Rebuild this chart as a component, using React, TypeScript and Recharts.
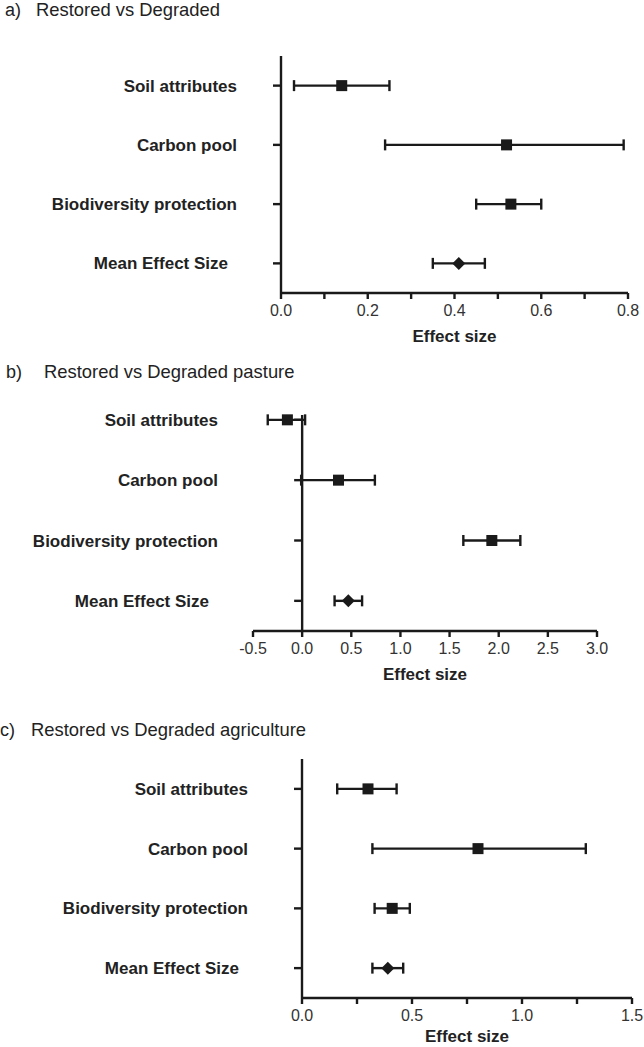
import { ScatterChart, Scatter, XAxis, YAxis, ErrorBar, ReferenceLine, Label } from 'recharts';

const categories = ['Soil attributes', 'Carbon pool', 'Biodiversity protection', 'Mean Effect Size'];

// a) Restored vs Degraded
const meanA = [0.14, 0.52, 0.53, 0.41];
const lowA = [0.03, 0.24, 0.45, 0.35];
const highA = [0.25, 0.79, 0.60, 0.47];
const ticksA = [0, 0.1, 0.2, 0.3, 0.4, 0.5, 0.6, 0.7, 0.8];

// b) Restored vs Degraded pasture
const meanB = [-0.15, 0.37, 1.93, 0.47];
const lowB = [-0.35, -0.01, 1.64, 0.33];
const highB = [0.03, 0.74, 2.22, 0.61];
const ticksB = [-0.5, 0, 0.5, 1, 1.5, 2, 2.5, 3];

// c) Restored vs Degraded agriculture
const meanC = [0.30, 0.80, 0.41, 0.39];
const lowC = [0.16, 0.32, 0.33, 0.32];
const highC = [0.43, 1.29, 0.49, 0.46];
const ticksC = [0, 0.25, 0.5, 0.75, 1, 1.25, 1.5];

const INK = '#1a1a1a';
const LW = 2.4;
const FONT = '"Liberation Sans", Arial, sans-serif';

const Square = (p: any) => <rect x={p.cx - 5.5} y={p.cy - 5.5} width={11} height={11} fill={INK} />;
const Diamond = (p: any) => (
  <polygon
    points={`${p.cx},${p.cy - 6.5} ${p.cx + 6.5},${p.cy} ${p.cx},${p.cy + 6.5} ${p.cx - 6.5},${p.cy}`}
    fill={INK}
  />
);

const CatTick = ({ x, y, payload }: any) => {
  const name = categories[categories.length - payload.value];
  // the mean row sits a little further left in the original
  const shift = payload.value === 1 ? 9 : 0;
  return (
    <text x={x - shift} y={y} dy="0.355em" textAnchor="end"
      fontSize={17} fontWeight="bold" fill="#222" fontFamily={FONT}>
      {name}
    </text>
  );
};

interface PanelProps {
  letter: string; title: string; titleX: number; letterX: number; titleY: number;
  means: number[]; lows: number[]; highs: number[];
  ticks: number[]; showTick: (v: number) => boolean;
  top: number; height: number; marginTop: number; axisHeight: number; labelOffset: number;
  axisLeft: number; right: number; labelGap: number; yTop: number;
  zeroAxis?: boolean; unitPx?: number;
}

function Panel(p: PanelProps) {
  const rows = p.means.map((m, i) => ({
    x: m, y: categories.length - i, err: [m - p.lows[i], p.highs[i] - m],
  }));
  const studies = rows.slice(0, 3);
  const mean = rows.slice(3);
  const tickLen = p.unitPx ? 8 / p.unitPx : 0;

  return (
    <>
      <div style={{ position: 'absolute', left: p.letterX, top: p.titleY, fontSize: 18, lineHeight: '18px', color: '#222' }}>
        {p.letter}
      </div>
      <div style={{ position: 'absolute', left: p.titleX, top: p.titleY, fontSize: 18.4, lineHeight: '18px', color: '#222' }}>
        {p.title}
      </div>
      <div style={{ position: 'absolute', left: 0, top: p.top }}>
        <ScatterChart width={644} height={p.height}
          margin={{ top: p.marginTop, right: p.right, bottom: 0, left: 0 }}>
          <XAxis type="number" dataKey="x" domain={[p.ticks[0], p.ticks[p.ticks.length - 1]]}
            ticks={p.ticks} interval={0} height={p.axisHeight}
            tickFormatter={(v: number) => (p.showTick(v) ? v.toFixed(1) : '')}
            tick={{ fontSize: 16, fill: '#333', fontFamily: FONT }}
            tickSize={6} tickMargin={6}
            axisLine={{ stroke: INK, strokeWidth: LW }}
            tickLine={{ stroke: INK, strokeWidth: LW }}>
            <Label value="Effect size" position="insideBottom" offset={p.labelOffset}
              style={{ fontSize: 17, fontWeight: 'bold', fill: '#222', fontFamily: FONT }} />
          </XAxis>
          <YAxis type="number" dataKey="y" domain={[0.5, p.yTop]} ticks={[1, 2, 3, 4]}
            interval={0} width={p.axisLeft}
            tick={<CatTick />}
            tickSize={p.zeroAxis ? 0 : 8} tickMargin={p.labelGap}
            axisLine={p.zeroAxis ? false : { stroke: INK, strokeWidth: LW }}
            tickLine={p.zeroAxis ? false : { stroke: INK, strokeWidth: LW }} />
          {p.zeroAxis && <ReferenceLine x={0} stroke={INK} strokeWidth={LW} />}
          {p.zeroAxis && [1, 2, 3, 4].map(r => (
            <ReferenceLine key={r} segment={[{ x: -tickLen, y: r }, { x: 0, y: r }]}
              stroke={INK} strokeWidth={LW} />
          ))}
          <Scatter data={studies} shape={Square} isAnimationActive={false}>
            <ErrorBar dataKey="err" direction="x" width={5.5} stroke={INK} strokeWidth={LW}
              isAnimationActive={false} />
          </Scatter>
          <Scatter data={mean} shape={Diamond} isAnimationActive={false}>
            <ErrorBar dataKey="err" direction="x" width={5.5} stroke={INK} strokeWidth={LW}
              isAnimationActive={false} />
          </Scatter>
        </ScatterChart>
      </div>
    </>
  );
}

export default function App() {
  return (
    <div style={{
      position: 'absolute', left: 0, top: 0, width: 644, height: 1047,
      overflow: 'hidden', background: '#fff', fontFamily: FONT,
    }}>
      <Panel letter="a)" letterX={5} title="Restored vs Degraded" titleX={36} titleY={1}
        means={meanA} lows={lowA} highs={highA}
        ticks={ticksA} showTick={v => Math.round(v * 10) % 2 === 0}
        top={0} height={345} marginTop={56} axisHeight={52} labelOffset={3}
        axisLeft={281} right={16} labelGap={36} yTop={4.5} />
      <Panel letter="b)" letterX={6} title="Restored vs Degraded pasture" titleX={44} titleY={363}
        means={meanB} lows={lowB} highs={highB}
        ticks={ticksB} showTick={() => true}
        top={360} height={323} marginTop={55} axisHeight={52} labelOffset={3}
        axisLeft={253} right={47} labelGap={35} yTop={4.08}
        zeroAxis unitPx={98.3} />
      <Panel letter="c)" letterX={0} title="Restored vs Degraded agriculture" titleX={31} titleY={721}
        means={meanC} lows={lowC} highs={highC}
        ticks={ticksC} showTick={v => Number.isInteger(v * 2)}
        top={700} height={347} marginTop={59} axisHeight={49} labelOffset={5}
        axisLeft={302} right={12} labelGap={46} yTop={4.5} />
    </div>
  );
}
